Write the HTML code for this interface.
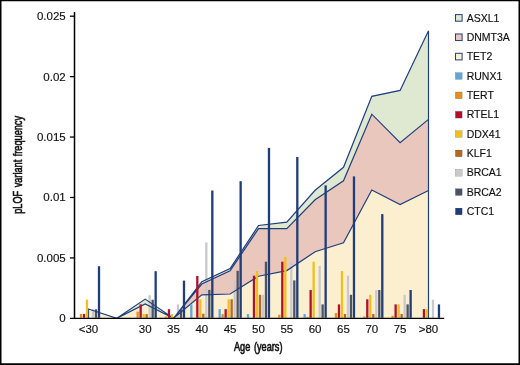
<!DOCTYPE html>
<html lang="en">
<head>
<meta charset="utf-8">
<title>pLOF variant frequency by age</title>
<style>
html,body{margin:0;padding:0;background:#fff;}
body{width:520px;height:365px;overflow:hidden;}
svg{display:block;}
</style>
</head>
<body>
<svg width="520" height="365" viewBox="0 0 520 365">
<rect x="0" y="0" width="520" height="365" fill="#ffffff"/>
<polygon fill="#fcefcf" points="88.5,309.0 116.8,318.3 145.2,304.0 173.5,318.3 201.8,294.8 230.1,294.0 258.5,276.2 286.8,270.6 315.1,251.8 343.5,242.8 371.8,190.0 400.1,204.5 428.5,190.5 428.5,318.4 400.1,318.4 371.8,318.4 343.5,318.4 315.1,318.4 286.8,318.4 258.5,318.4 230.1,318.4 201.8,318.4 173.5,318.4 145.2,318.4 116.8,318.4 88.5,318.4"/>
<polygon fill="#eac7bd" points="88.5,309.0 116.8,318.3 145.2,304.0 173.5,318.3 201.8,284.0 230.1,270.9 258.5,228.6 286.8,228.6 315.1,199.8 343.5,180.8 371.8,114.2 400.1,142.7 428.5,119.4 428.5,190.5 400.1,204.5 371.8,190.0 343.5,242.8 315.1,251.8 286.8,270.6 258.5,276.2 230.1,294.0 201.8,294.8 173.5,318.3 145.2,304.0 116.8,318.3 88.5,309.0"/>
<polygon fill="#dfe8d0" points="88.5,309.0 116.8,318.3 145.2,299.1 173.5,318.3 201.8,281.7 230.1,268.6 258.5,225.5 286.8,222.2 315.1,190.3 343.5,167.3 371.8,96.3 400.1,90.4 428.5,30.8 428.5,119.4 400.1,142.7 371.8,114.2 343.5,180.8 315.1,199.8 286.8,228.6 258.5,228.6 230.1,270.9 201.8,284.0 173.5,318.3 145.2,304.0 116.8,318.3 88.5,309.0"/>
<g fill="#c9c9cd">
<rect x="91.85" y="309.3" width="2.30" height="8.5"/>
<rect x="148.51" y="295.2" width="2.30" height="22.6"/>
<rect x="176.84" y="304.4" width="2.30" height="13.4"/>
<rect x="205.17" y="242.5" width="2.30" height="75.3"/>
<rect x="233.50" y="280.7" width="2.30" height="37.1"/>
<rect x="261.83" y="294.8" width="2.30" height="23.0"/>
<rect x="290.16" y="261.7" width="2.30" height="56.1"/>
<rect x="318.49" y="266.0" width="2.30" height="51.8"/>
<rect x="346.82" y="275.7" width="2.30" height="42.1"/>
<rect x="375.15" y="290.0" width="2.30" height="27.8"/>
<rect x="403.48" y="294.8" width="2.30" height="23.0"/>
<rect x="431.81" y="299.7" width="2.30" height="18.1"/>
</g>
<g fill="#4a5266">
<rect x="94.85" y="309.3" width="2.30" height="8.5"/>
<rect x="151.51" y="299.7" width="2.30" height="18.1"/>
<rect x="179.84" y="309.5" width="2.30" height="8.3"/>
<rect x="208.17" y="289.9" width="2.30" height="27.9"/>
<rect x="236.50" y="270.8" width="2.30" height="47.0"/>
<rect x="264.83" y="261.7" width="2.30" height="56.1"/>
<rect x="293.16" y="280.4" width="2.30" height="37.4"/>
<rect x="321.49" y="304.4" width="2.30" height="13.4"/>
<rect x="349.82" y="294.8" width="2.30" height="23.0"/>
<rect x="378.15" y="290.0" width="2.30" height="27.8"/>
<rect x="406.48" y="304.4" width="2.30" height="13.4"/>
</g>
<path d="M88.5 309.0 L116.8 318.3 L145.2 304.0 L173.5 318.3 L201.8 294.8 L230.1 294.0 L258.5 276.2 L286.8 270.6 L315.1 251.8 L343.5 242.8 L371.8 190.0 L400.1 204.5 L428.5 190.5 M88.5 309.0 L116.8 318.3 L145.2 304.0 L173.5 318.3 L201.8 284.0 L230.1 270.9 L258.5 228.6 L286.8 228.6 L315.1 199.8 L343.5 180.8 L371.8 114.2 L400.1 142.7 L428.5 119.4 M88.5 309.0 L116.8 318.3 L145.2 299.1 L173.5 318.3 L201.8 281.7 L230.1 268.6 L258.5 225.5 L286.8 222.2 L315.1 190.3 L343.5 167.3 L371.8 96.3 L400.1 90.4 L428.5 30.8 M88.5 308.5V318.4 M428.5 30.8V318.4" stroke="#1f3f7d" stroke-width="1.20" stroke-linejoin="miter" stroke-miterlimit="8" fill="none"/>
<g fill="#5fa6de">
<rect x="190.17" y="304.4" width="2.30" height="13.4"/>
<rect x="218.50" y="309.1" width="2.30" height="8.7"/>
<rect x="246.83" y="314.0" width="2.30" height="3.8"/>
<rect x="303.49" y="314.0" width="2.30" height="3.8"/>
</g>
<g fill="#e58e1a">
<rect x="79.85" y="313.9" width="2.30" height="3.9"/>
<rect x="136.51" y="311.6" width="2.30" height="6.2"/>
<rect x="164.84" y="316.5" width="2.30" height="1.3"/>
<rect x="221.50" y="314.1" width="2.30" height="3.7"/>
<rect x="278.16" y="314.7" width="2.30" height="3.1"/>
<rect x="306.49" y="316.8" width="2.30" height="1.0"/>
<rect x="334.82" y="313.0" width="2.30" height="4.8"/>
<rect x="363.15" y="316.5" width="2.30" height="1.3"/>
<rect x="391.48" y="315.7" width="2.30" height="2.1"/>
</g>
<g fill="#b0102c">
<rect x="82.85" y="313.9" width="2.30" height="3.9"/>
<rect x="139.51" y="304.3" width="2.30" height="13.5"/>
<rect x="167.84" y="309.2" width="2.30" height="8.6"/>
<rect x="196.17" y="276.0" width="2.30" height="41.8"/>
<rect x="224.50" y="309.1" width="2.30" height="8.7"/>
<rect x="252.83" y="275.7" width="2.30" height="42.1"/>
<rect x="281.16" y="261.7" width="2.30" height="56.1"/>
<rect x="309.49" y="290.0" width="2.30" height="27.8"/>
<rect x="337.82" y="304.4" width="2.30" height="13.4"/>
<rect x="366.15" y="299.3" width="2.30" height="18.5"/>
<rect x="394.48" y="304.4" width="2.30" height="13.4"/>
<rect x="422.81" y="309.1" width="2.30" height="8.7"/>
</g>
<g fill="#efbf1f">
<rect x="85.85" y="299.6" width="2.30" height="18.2"/>
<rect x="142.51" y="314.1" width="2.30" height="3.7"/>
<rect x="170.84" y="314.0" width="2.30" height="3.8"/>
<rect x="199.17" y="299.4" width="2.30" height="18.4"/>
<rect x="227.50" y="299.3" width="2.30" height="18.5"/>
<rect x="255.83" y="271.0" width="2.30" height="46.8"/>
<rect x="284.16" y="256.9" width="2.30" height="60.9"/>
<rect x="312.49" y="261.7" width="2.30" height="56.1"/>
<rect x="340.82" y="271.0" width="2.30" height="46.8"/>
<rect x="369.15" y="294.8" width="2.30" height="23.0"/>
<rect x="397.48" y="304.4" width="2.30" height="13.4"/>
<rect x="425.81" y="309.1" width="2.30" height="8.7"/>
</g>
<g fill="#b5681f">
<rect x="145.51" y="314.1" width="2.30" height="3.7"/>
<rect x="202.17" y="313.7" width="2.30" height="4.1"/>
<rect x="230.50" y="299.3" width="2.30" height="18.5"/>
<rect x="258.83" y="294.8" width="2.30" height="23.0"/>
<rect x="343.82" y="314.0" width="2.30" height="3.8"/>
<rect x="372.15" y="314.0" width="2.30" height="3.8"/>
<rect x="400.48" y="314.0" width="2.30" height="3.8"/>
</g>
<g fill="#1e3d7a">
<rect x="97.85" y="266.2" width="2.30" height="51.6"/>
<rect x="154.51" y="271.2" width="2.30" height="46.6"/>
<rect x="182.84" y="280.6" width="2.30" height="37.2"/>
<rect x="211.17" y="190.5" width="2.30" height="127.3"/>
<rect x="239.50" y="181.2" width="2.30" height="136.6"/>
<rect x="267.83" y="147.9" width="2.30" height="169.9"/>
<rect x="296.16" y="157.0" width="2.30" height="160.8"/>
<rect x="324.49" y="185.4" width="2.30" height="132.4"/>
<rect x="352.82" y="176.4" width="2.30" height="141.4"/>
<rect x="381.15" y="214.1" width="2.30" height="103.7"/>
<rect x="409.48" y="290.0" width="2.30" height="27.8"/>
<rect x="437.81" y="304.4" width="2.30" height="13.4"/>
</g>
<g stroke="#000" stroke-width="1.3" fill="none">
<path d="M74.5 11.9V318.9" stroke-width="1.5"/>
<path d="M69.9 318.35H444.2" stroke-width="1.25"/>
</g>
<g stroke="#000" stroke-width="1.3" fill="none">
<path d="M69.9 257.92H74.4"/>
<path d="M69.9 197.49H74.4"/>
<path d="M69.9 137.06H74.4"/>
<path d="M69.9 76.63H74.4"/>
<path d="M69.9 16.20H74.4"/>
</g>
<g font-family="&quot;Liberation Sans&quot;, Arial, Helvetica, sans-serif" font-size="11.5" fill="#111" stroke="#111" stroke-width="0.15" text-anchor="end">
<text x="65.7" y="322.25">0</text>
<text x="65.7" y="261.82">0.005</text>
<text x="65.7" y="201.39">0.01</text>
<text x="65.7" y="140.96">0.015</text>
<text x="65.7" y="80.53">0.02</text>
<text x="65.7" y="20.10">0.025</text>
</g>
<g font-family="&quot;Liberation Sans&quot;, Arial, Helvetica, sans-serif" font-size="11.5" fill="#111" stroke="#111" stroke-width="0.15" text-anchor="middle">
<text x="88.5" y="333">&lt;30</text>
<text x="145.2" y="333">30</text>
<text x="173.5" y="333">35</text>
<text x="201.8" y="333">40</text>
<text x="230.1" y="333">45</text>
<text x="258.5" y="333">50</text>
<text x="286.8" y="333">55</text>
<text x="315.1" y="333">60</text>
<text x="343.5" y="333">65</text>
<text x="371.8" y="333">70</text>
<text x="400.1" y="333">75</text>
<text x="428.5" y="333">&gt;80</text>
</g>
<g font-family="&quot;Liberation Sans&quot;, Arial, Helvetica, sans-serif" font-size="12" fill="#111" stroke="#111" stroke-width="0.6" text-anchor="middle">
<text transform="translate(258.2 351.2) scale(0.765 1)" word-spacing="1.5">Age (years)</text>
<text transform="translate(22.0 164.9) rotate(-90) scale(0.765 1)" word-spacing="1.3">pLOF variant frequency</text>
</g>
<g font-family="&quot;Liberation Sans&quot;, Arial, Helvetica, sans-serif" font-size="10.5" fill="#111" stroke="#111" stroke-width="0.15">
<rect x="455.5" y="14.60" width="6.6" height="6.6" fill="#dfe8d0" stroke="#1f3f7d" stroke-width="1.0"/>
<text x="466.7" y="21.50">ASXL1</text>
<rect x="455.5" y="33.95" width="6.6" height="6.6" fill="#eac7bd" stroke="#1f3f7d" stroke-width="1.0"/>
<text x="466.7" y="40.85">DNMT3A</text>
<rect x="455.5" y="53.30" width="6.6" height="6.6" fill="#fcefcf" stroke="#1f3f7d" stroke-width="1.0"/>
<text x="466.7" y="60.20">TET2</text>
<rect x="455.4" y="72.65" width="6.7" height="6.7" fill="#5fa6de"/>
<text x="466.7" y="79.55">RUNX1</text>
<rect x="455.4" y="92.00" width="6.7" height="6.7" fill="#e58e1a"/>
<text x="466.7" y="98.90">TERT</text>
<rect x="455.4" y="111.35" width="6.7" height="6.7" fill="#b0102c"/>
<text x="466.7" y="118.25">RTEL1</text>
<rect x="455.4" y="130.70" width="6.7" height="6.7" fill="#efbf1f"/>
<text x="466.7" y="137.60">DDX41</text>
<rect x="455.4" y="150.05" width="6.7" height="6.7" fill="#b5681f"/>
<text x="466.7" y="156.95">KLF1</text>
<rect x="455.4" y="169.40" width="6.7" height="6.7" fill="#c9c9cd"/>
<text x="466.7" y="176.30">BRCA1</text>
<rect x="455.4" y="188.75" width="6.7" height="6.7" fill="#4a5266"/>
<text x="466.7" y="195.65">BRCA2</text>
<rect x="455.4" y="208.10" width="6.7" height="6.7" fill="#1e3d7a"/>
<text x="466.7" y="215.00">CTC1</text>
</g>
<path d="M0 0H520V365H0Z M1.5 1.3V363.2H518.5V1.3Z" fill="#000" fill-rule="evenodd"/>
</svg>
</body>
</html>
